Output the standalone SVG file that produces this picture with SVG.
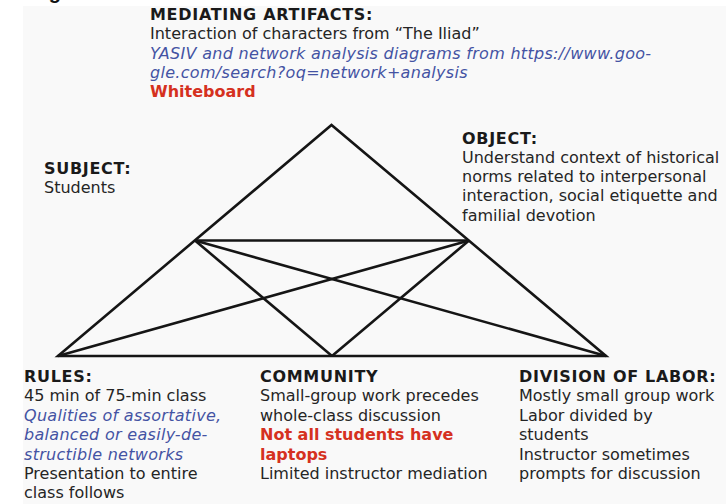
<svg xmlns="http://www.w3.org/2000/svg" width="726" height="504" viewBox="0 0 726 504">
<style>
text{font-family:"DejaVu Sans","Verdana",sans-serif;font-size:16px;fill:#252525}
.h{font-weight:bold;fill:#1a1a1a;letter-spacing:0.7px}
.b{font-style:italic;fill:#4453a3;letter-spacing:0.3px}
.r{font-weight:bold;fill:#d5311f}
.ln{stroke:#151515;stroke-width:2.6;fill:none;stroke-linejoin:miter}
</style>
<rect width="726" height="504" fill="#ffffff"/>
<rect x="23" y="6" width="703" height="498" fill="#f9f9f9"/>
<text x="31" y="-1" style="font-family:'Liberation Sans',sans-serif;font-weight:bold;font-size:20px;fill:#111;letter-spacing:0">Fig</text>
<g id="connectors">
<polygon class="ln" points="58,356 331.5,125 606,356"/>
<line class="ln" x1="195" y1="240.5" x2="469" y2="240.5"/>
<line class="ln" x1="195" y1="240.5" x2="332" y2="356"/>
<line class="ln" x1="469" y1="240.5" x2="332" y2="356"/>
<line class="ln" x1="195" y1="240.5" x2="606" y2="356"/>
<line class="ln" x1="469" y1="240.5" x2="58" y2="356"/>
</g>
<g id="mediating">
<text x="150" y="20" class="h">MEDIATING ARTIFACTS:</text>
<text x="150" y="39.3">Interaction of characters from “The Iliad”</text>
<text x="150" y="58.6" class="b">YASIV and network analysis diagrams from https://www.goo-</text>
<text x="150" y="77.9" class="b">gle.com/search?oq=network+analysis</text>
<text x="150" y="97.2" class="r">Whiteboard</text>
</g>
<g id="subject">
<text x="44" y="173.5" class="h">SUBJECT:</text>
<text x="44" y="193">Students</text>
</g>
<g id="object">
<text x="462" y="143.5" class="h">OBJECT:</text>
<text x="462" y="162.8">Understand context of historical</text>
<text x="462" y="182.1">norms related to interpersonal</text>
<text x="462" y="201.4">interaction, social etiquette and</text>
<text x="462" y="220.7">familial devotion</text>
</g>
<g id="rules">
<text x="24" y="382" class="h">RULES:</text>
<text x="24" y="401.4">45 min of 75-min class</text>
<text x="24" y="420.8" class="b">Qualities of assortative,</text>
<text x="24" y="440.2" class="b">balanced or easily-de-</text>
<text x="24" y="459.6" class="b">structible networks</text>
<text x="24" y="479">Presentation to entire</text>
<text x="24" y="498.4">class follows</text>
</g>
<g id="community">
<text x="260" y="382" class="h">COMMUNITY</text>
<text x="260" y="401.4">Small-group work precedes</text>
<text x="260" y="420.8">whole-class discussion</text>
<text x="260" y="440.2" class="r">Not all students have</text>
<text x="260" y="459.6" class="r">laptops</text>
<text x="260" y="479">Limited instructor mediation</text>
</g>
<g id="division">
<text x="519" y="382" class="h">DIVISION OF LABOR:</text>
<text x="519" y="401.4">Mostly small group work</text>
<text x="519" y="420.8">Labor divided by</text>
<text x="519" y="440.2">students</text>
<text x="519" y="459.6">Instructor sometimes</text>
<text x="519" y="479">prompts for discussion</text>
</g>
</svg>
